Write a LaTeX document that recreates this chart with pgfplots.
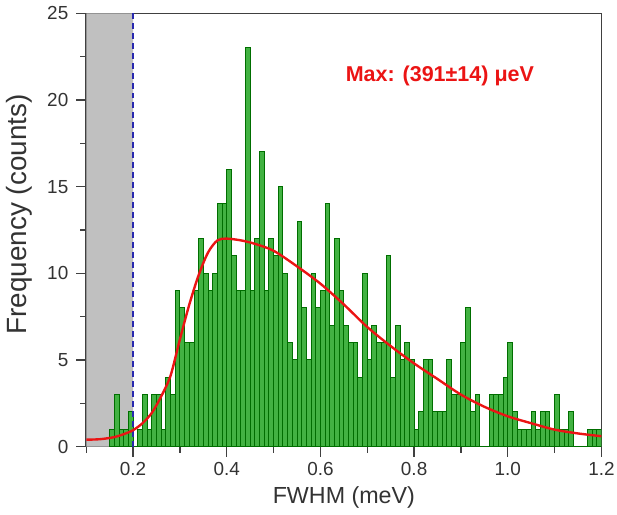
\documentclass[border=0pt]{standalone}
\usepackage{fontspec}
\setmainfont{Liberation Sans}
\usepackage{pgfplots}
\pgfplotsset{compat=1.18}

\definecolor{barfill}{RGB}{66,178,66}
\definecolor{baredge}{RGB}{0,110,0}
\definecolor{shade}{RGB}{192,192,192}
\definecolor{cutline}{RGB}{40,40,175}
\definecolor{fitred}{RGB}{235,20,20}

% histogram, bin width 0.01 meV, bin centres
\pgfplotstableread{
x      n
0.155  1
0.165  3
0.175  1
0.185  1
0.195  2
0.205  0
0.215  1
0.225  3
0.235  1
0.245  3
0.255  3
0.265  1
0.275  4
0.285  3
0.295  9
0.305  8
0.315  6
0.325  6
0.335  9
0.345  12
0.355  10
0.365  9
0.375  10
0.385  14
0.395  14
0.405  16
0.415  11
0.425  9
0.435  9
0.445  23
0.455  9
0.465  12
0.475  17
0.485  9
0.495  12
0.505  11
0.515  15
0.525  10
0.535  6
0.545  5
0.555  13
0.565  8
0.575  5
0.585  10
0.595  8
0.605  9
0.615  14
0.625  7
0.635  12
0.645  9
0.655  7
0.665  6
0.675  6
0.685  4
0.695  10
0.705  5
0.715  7
0.725  6
0.735  6
0.745  11
0.755  4
0.765  7
0.775  5
0.785  6
0.795  5
0.805  1
0.815  2
0.825  5
0.835  5
0.845  2
0.855  2
0.865  2
0.875  5
0.885  3
0.895  3
0.905  6
0.915  8
0.925  2
0.935  3
0.945  0
0.955  0
0.965  3
0.975  3
0.985  3
0.995  4
1.005  6
1.015  2
1.025  1
1.035  1
1.045  1
1.055  2
1.065  1
1.075  2
1.085  2
1.095  1
1.105  3
1.115  1
1.125  1
1.135  2
1.145  0
1.155  0
1.165  0
1.175  1
1.185  1
1.195  1
}\histdata

\begin{document}
\begin{tikzpicture}
\begin{axis}[
    scale only axis,
    width=258bp,
    height=217bp,
    xmin=0.1, xmax=1.2,
    ymin=0, ymax=25,
    xtick={0.2,0.4,0.6,0.8,1.0,1.2},
    minor xtick={0.1,0.3,0.5,0.7,0.9,1.1},
    ytick={0,5,10,15,20,25},
    minor ytick={2.5,7.5,12.5,17.5,22.5},
    tick pos=left,
    tick align=outside,
    major tick length=5bp,
    minor tick length=3bp,
    axis line style={draw=black!75, line width=0.8pt},
    every tick/.style={black!75, line width=0.7pt},
    /pgf/number format/assume math mode=true,
    ticklabel style={font=\fontsize{9.5}{11}\selectfont, text=black!80},
    yticklabel style={xshift=-0.5bp},
    xticklabel style={inner sep=1.2bp, yshift=-1.5bp,
        /pgf/number format/.cd, fixed, fixed zerofill, precision=1},
    xlabel={FWHM (meV)},
    ylabel={Frequency (counts)},
    xlabel style={font=\fontsize{11.7}{14}\selectfont, text=black!80, yshift=-0.5bp},
    ylabel style={font=\fontsize{14}{16}\selectfont, text=black!80,
        at={(ticklabel cs:0.536)}, yshift=0.5bp},
    clip=true,
]

% excluded region below 0.2 meV
\addplot[fill=shade, draw=none] coordinates {(0.1,0) (0.1,25) (0.2,25) (0.2,0)} \closedcycle;

\addplot[ybar, bar width=0.01, fill=barfill, draw=baredge, line width=0.5pt]
    table[x=x, y=n] {\histdata};

\addplot[cutline, densely dashed, line width=0.8pt] coordinates {(0.2,0) (0.2,25)};

% fitted distribution
\addplot[fitred, line width=1.2pt, smooth] coordinates {
    (0.10,0.40) (0.13,0.43) (0.16,0.55) (0.18,0.72) (0.20,0.95)
    (0.22,1.35) (0.24,1.95) (0.26,2.9) (0.28,4.1) (0.30,6.2)
    (0.32,8.2) (0.34,9.9) (0.36,11.2) (0.38,11.9) (0.40,12.0)
    (0.43,11.9) (0.46,11.7) (0.50,11.3) (0.55,10.4) (0.60,9.4)
    (0.65,8.2) (0.70,6.9) (0.75,5.8) (0.80,4.8) (0.85,3.9)
    (0.90,3.0) (0.95,2.3) (1.00,1.75) (1.05,1.35) (1.10,0.98)
    (1.15,0.76) (1.20,0.6)
};

\node[text=fitred, font=\bfseries\fontsize{10.8}{12}\selectfont, anchor=center]
    at (axis cs:0.855,21.4) {Max: (391±14) μeV};

\end{axis}
\end{tikzpicture}
\end{document}
